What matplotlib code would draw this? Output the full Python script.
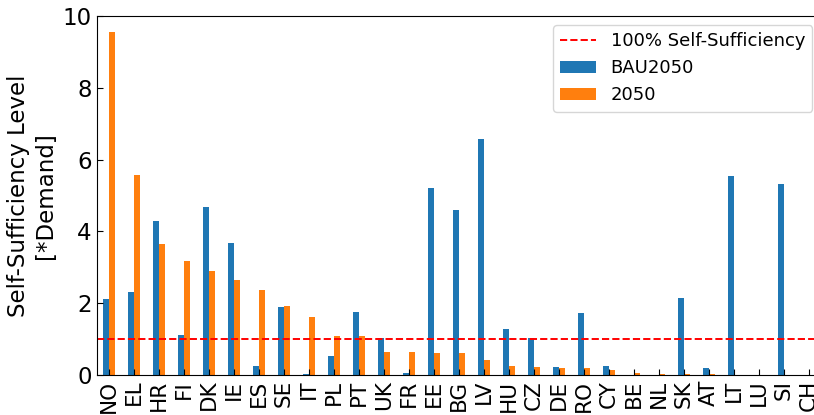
import matplotlib
matplotlib.use("Agg")
import matplotlib.pyplot as plt
import numpy as np

countries = ["NO", "EL", "HR", "FI", "DK", "IE", "ES", "SE", "IT", "PL",
             "PT", "UK", "FR", "EE", "BG", "LV", "HU", "CZ", "DE", "RO",
             "CY", "BE", "NL", "SK", "AT", "LT", "LU", "SI", "CH"]
bau2050 = [2.11, 2.31, 4.28, 1.12, 4.67, 3.69, 0.26, 1.89, 0.02, 0.53,
           1.75, 1.03, 0.05, 5.21, 4.60, 6.58, 1.27, 1.03, 0.21, 1.74,
           0.24, 0.0, 0.0, 2.15, 0.19, 5.54, 0.0, 5.31, 0.0]
s2050 = [9.55, 5.56, 3.65, 3.17, 2.89, 2.66, 2.36, 1.92, 1.62, 1.09,
         1.09, 0.65, 0.65, 0.62, 0.62, 0.41, 0.26, 0.23, 0.20, 0.19,
         0.15, 0.06, 0.04, 0.02, 0.02, 0.0, 0.0, 0.0, 0.0]


def main() -> None:
    fig = plt.figure(figsize=(8.14, 4.15), dpi=100)
    # axes run a bit past the right edge, as in the reference
    ax = fig.add_axes([96.5 / 814, 40 / 415, 725 / 814, 359 / 415])

    x = np.arange(len(countries))
    w = 0.25
    line = ax.axhline(1.0, color="red", linestyle="--", linewidth=1.4,
                      label="100% Self-Sufficiency")
    b1 = ax.bar(x - w / 2, bau2050, width=w, color="#1f77b4", label="BAU2050")
    b2 = ax.bar(x + w / 2, s2050, width=w, color="#ff7f0e", label="2050")

    ax.set_xlim(-0.5, len(countries) - 0.5)
    ax.set_ylim(0, 10)
    ax.set_yticks([0, 2, 4, 6, 8, 10])
    ax.set_xticks(x)
    ax.set_xticklabels(countries, rotation=90, fontsize=15.5)
    ax.tick_params(axis="y", labelsize=16.5)
    ax.tick_params(direction="in", length=4)
    ax.set_ylabel("Self-Sufficiency Level\n[*Demand]", fontsize=16.5)

    ax.legend([line, b1, b2], ["100% Self-Sufficiency", "BAU2050", "2050"],
              loc="upper right", fontsize=13)

    fig.savefig("out.png", dpi=100)


if __name__ == "__main__":
    main()
